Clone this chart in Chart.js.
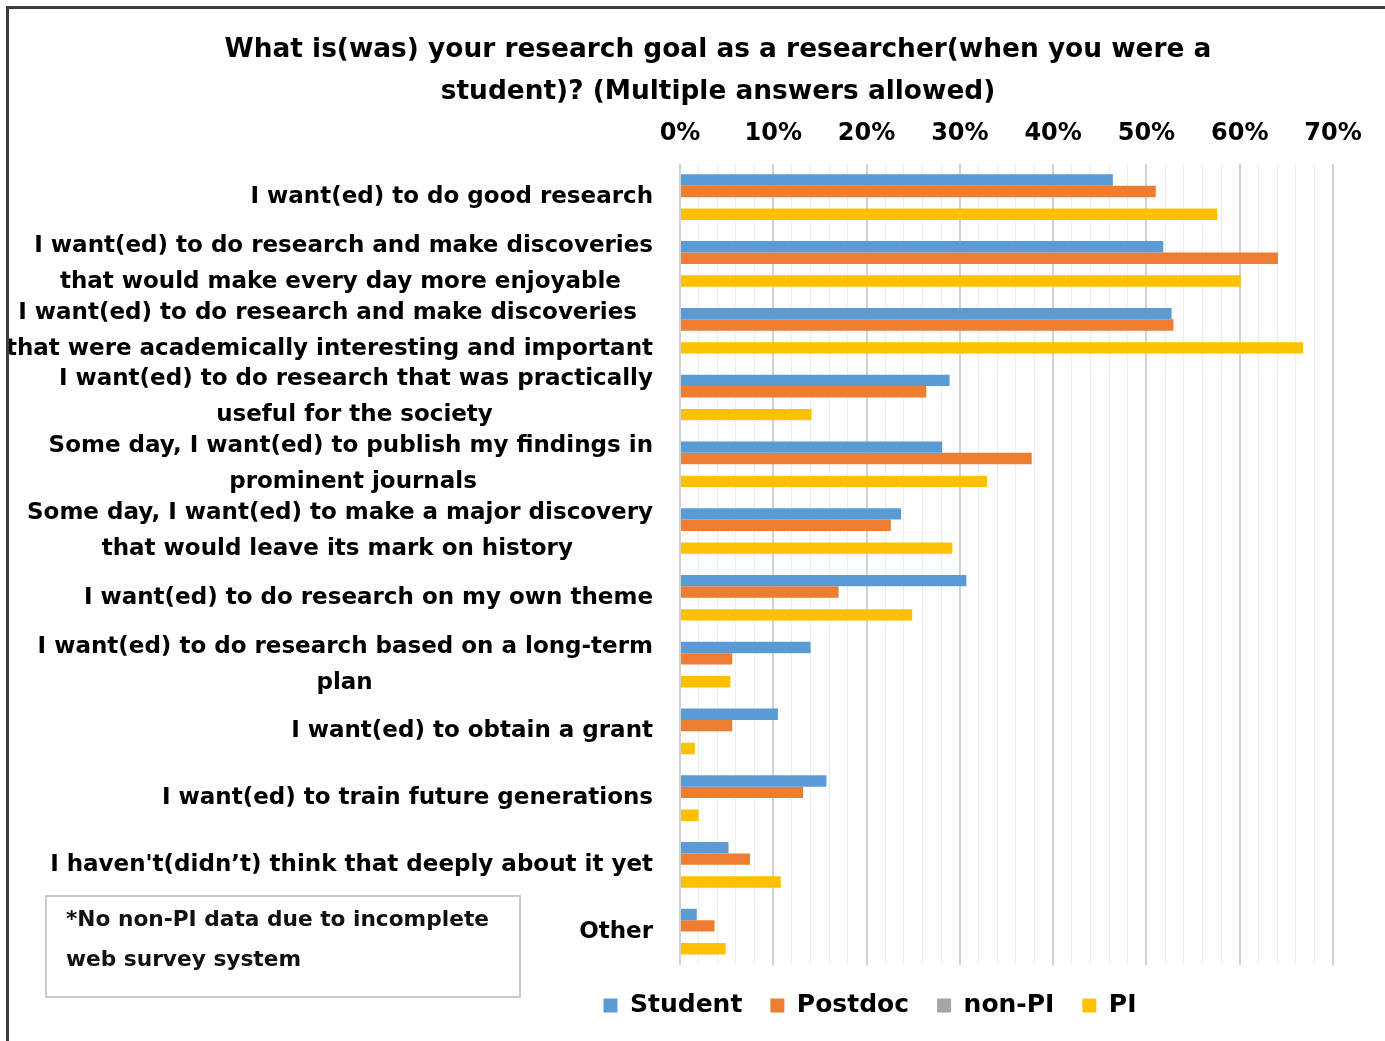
<!DOCTYPE html>
<html>
<head>
<meta charset="utf-8">
<script src="https://cdn.jsdelivr.net/npm/chart.js@4.4.1/dist/chart.umd.min.js"></script>
<style>
  html, body { margin: 0; padding: 0; background: #ffffff; }
  #wrap { position: relative; width: 1385px; height: 1041px; overflow: hidden; }
  #frame { position: absolute; left: 6px; top: 6px; right: -10px; bottom: -10px;
           border-top: 3px solid #3c3c3c; border-left: 3px solid #3c3c3c; pointer-events: none; }
  #note { position: absolute; left: 45px; top: 895px; width: 472px; height: 99px;
          border: 2px solid #cacaca; box-sizing: content-box;
          font-family: "DejaVu Sans", Verdana, sans-serif; font-weight: bold; font-size: 21.7px;
          line-height: 40px; color: #111; padding: 0; }
  #note div { padding-left: 19px; white-space: nowrap; }
  #note .l1 { margin-top: 2px; }
</style>
</head>
<body>
<div id="wrap">
  <canvas id="c" width="1385" height="1041"></canvas>
  <div id="frame"></div>
  <div id="note"><div class="l1">*No non-PI data due to incomplete</div><div>web survey system</div></div>
</div>
<script>
// ---------------- data ----------------
const titleLines = [
  "What is(was) your research goal as a researcher(when you were a",
  "student)? (Multiple answers allowed)"
];
const categories = [
  ["I want(ed) to do good research"],
  ["I want(ed) to do research and make discoveries", "that would make every day more enjoyable"],
  ["I want(ed) to do research and make discoveries", "that were academically interesting and important"],
  ["I want(ed) to do research that was practically", "useful for the society"],
  ["Some day, I want(ed) to publish my findings in", "prominent journals"],
  ["Some day, I want(ed) to make a major discovery", "that would leave its mark on history"],
  ["I want(ed) to do research on my own theme"],
  ["I want(ed) to do research based on a long-term", "plan"],
  ["I want(ed) to obtain a grant"],
  ["I want(ed) to train future generations"],
  ["I haven't(didn\u2019t) think that deeply about it yet"],
  ["Other"]
];
const seriesNames = ["Student", "Postdoc", "non-PI", "PI"];
const studentValues = [46.4, 51.8, 52.7, 28.9, 28.1, 23.7, 30.7, 14.0, 10.5, 15.7, 5.2, 1.8];
const postdocValues = [51.0, 64.1, 52.9, 26.4, 37.7, 22.6, 17.0, 5.6, 5.6, 13.2, 7.5, 3.7];
const nonPIValues   = [null, null, null, null, null, null, null, null, null, null, null, null];
const piValues      = [57.6, 60.1, 66.8, 14.1, 32.9, 29.2, 24.9, 5.4, 1.6, 2.0, 10.8, 4.9];
const xTickLabels = ["0%", "10%", "20%", "30%", "40%", "50%", "60%", "70%"];
const xMin = 0, xMax = 70, xMinorStep = 2, xMajorStep = 10;

// ---------------- styling ----------------
const colors = ["#5B9BD5", "#ED7D31", "#A5A5A5", "#FFC000"];
const FONT = "'DejaVu Sans', Verdana, sans-serif";
const labelFontSize = 23;

const measureCtx = document.createElement("canvas").getContext("2d");
measureCtx.font = "bold " + labelFontSize + "px " + FONT;
const spaceW = measureCtx.measureText(" ").width;
function centerLines(lines) {
  if (lines.length < 2) return lines;
  const widths = lines.map(l => measureCtx.measureText(l).width);
  const maxW = Math.max(...widths);
  return lines.map((l, i) => {
    const n = Math.round((maxW - widths[i]) / 2 / spaceW);
    return l + " ".repeat(n);
  });
}

const seriesData = [studentValues, postdocValues, nonPIValues, piValues];
const datasets = seriesNames.map((name, i) => ({
  label: name,
  data: seriesData[i],
  backgroundColor: colors[i],
  borderWidth: 0,
  categoryPercentage: 0.684,
  barPercentage: 1.0
}));

const shiftPlugin = {
  id: "shiftBlocks",
  afterLayout(chart) {
    const t = chart.titleBlock;
    if (t) { const d = 718 - (t.left + t.right) / 2; t.left += d; t.right += d; }
    const lg = chart.legend;
    if (lg) { const d = 870 - (lg.left + lg.right) / 2; lg.left += d; lg.right += d; }
  }
};

new Chart(document.getElementById("c"), {
  type: "bar",
  data: { labels: categories, datasets: datasets },
  plugins: [shiftPlugin],
  options: {
    indexAxis: "y",
    responsive: false,
    animation: false,
    layout: { padding: { left: 0, right: 52, top: 0, bottom: 13 } },
    plugins: {
      title: {
        display: true,
        text: titleLines,
        color: "#000",
        font: { family: FONT, size: 26.4, weight: "bold", lineHeight: 42 / 26.4 },
        padding: { top: 29, bottom: -10 }
      },
      legend: {
        display: true,
        position: "bottom",
        labels: {
          color: "#000",
          font: { family: FONT, size: 25, weight: "bold" },
          boxWidth: 14, boxHeight: 14,
          padding: 28
        }
      },
      tooltip: { enabled: false }
    },
    scales: {
      x: {
        position: "top",
        min: xMin, max: xMax,
        ticks: {
          stepSize: xMinorStep,
          autoSkip: false,
          maxRotation: 0,
          color: "#000",
          padding: 16,
          font: { family: FONT, size: 24, weight: "bold" },
          callback: (v) => (v % xMajorStep === 0 ? xTickLabels[v / xMajorStep] : "")
        },
        grid: {
          drawTicks: false,
          color: (ctx) => (ctx.tick && ctx.tick.value % xMajorStep === 0 ? "#d2d2d2" : "#ececec"),
          lineWidth: (ctx) => (ctx.tick && ctx.tick.value % xMajorStep === 0 ? 2 : 1)
        },
        border: { display: false }
      },
      y: {
        afterFit: (scale) => { scale.width = 680; },
        ticks: {
          color: "#000",
          padding: 19,
          autoSkip: false,
          font: { family: FONT, size: labelFontSize, weight: "bold", lineHeight: 36 / labelFontSize },
          callback: function (v, i) { return centerLines(categories[i]); }
        },
        grid: { display: false },
        border: { display: false }
      }
    }
  }
});
</script>
</body>
</html>
